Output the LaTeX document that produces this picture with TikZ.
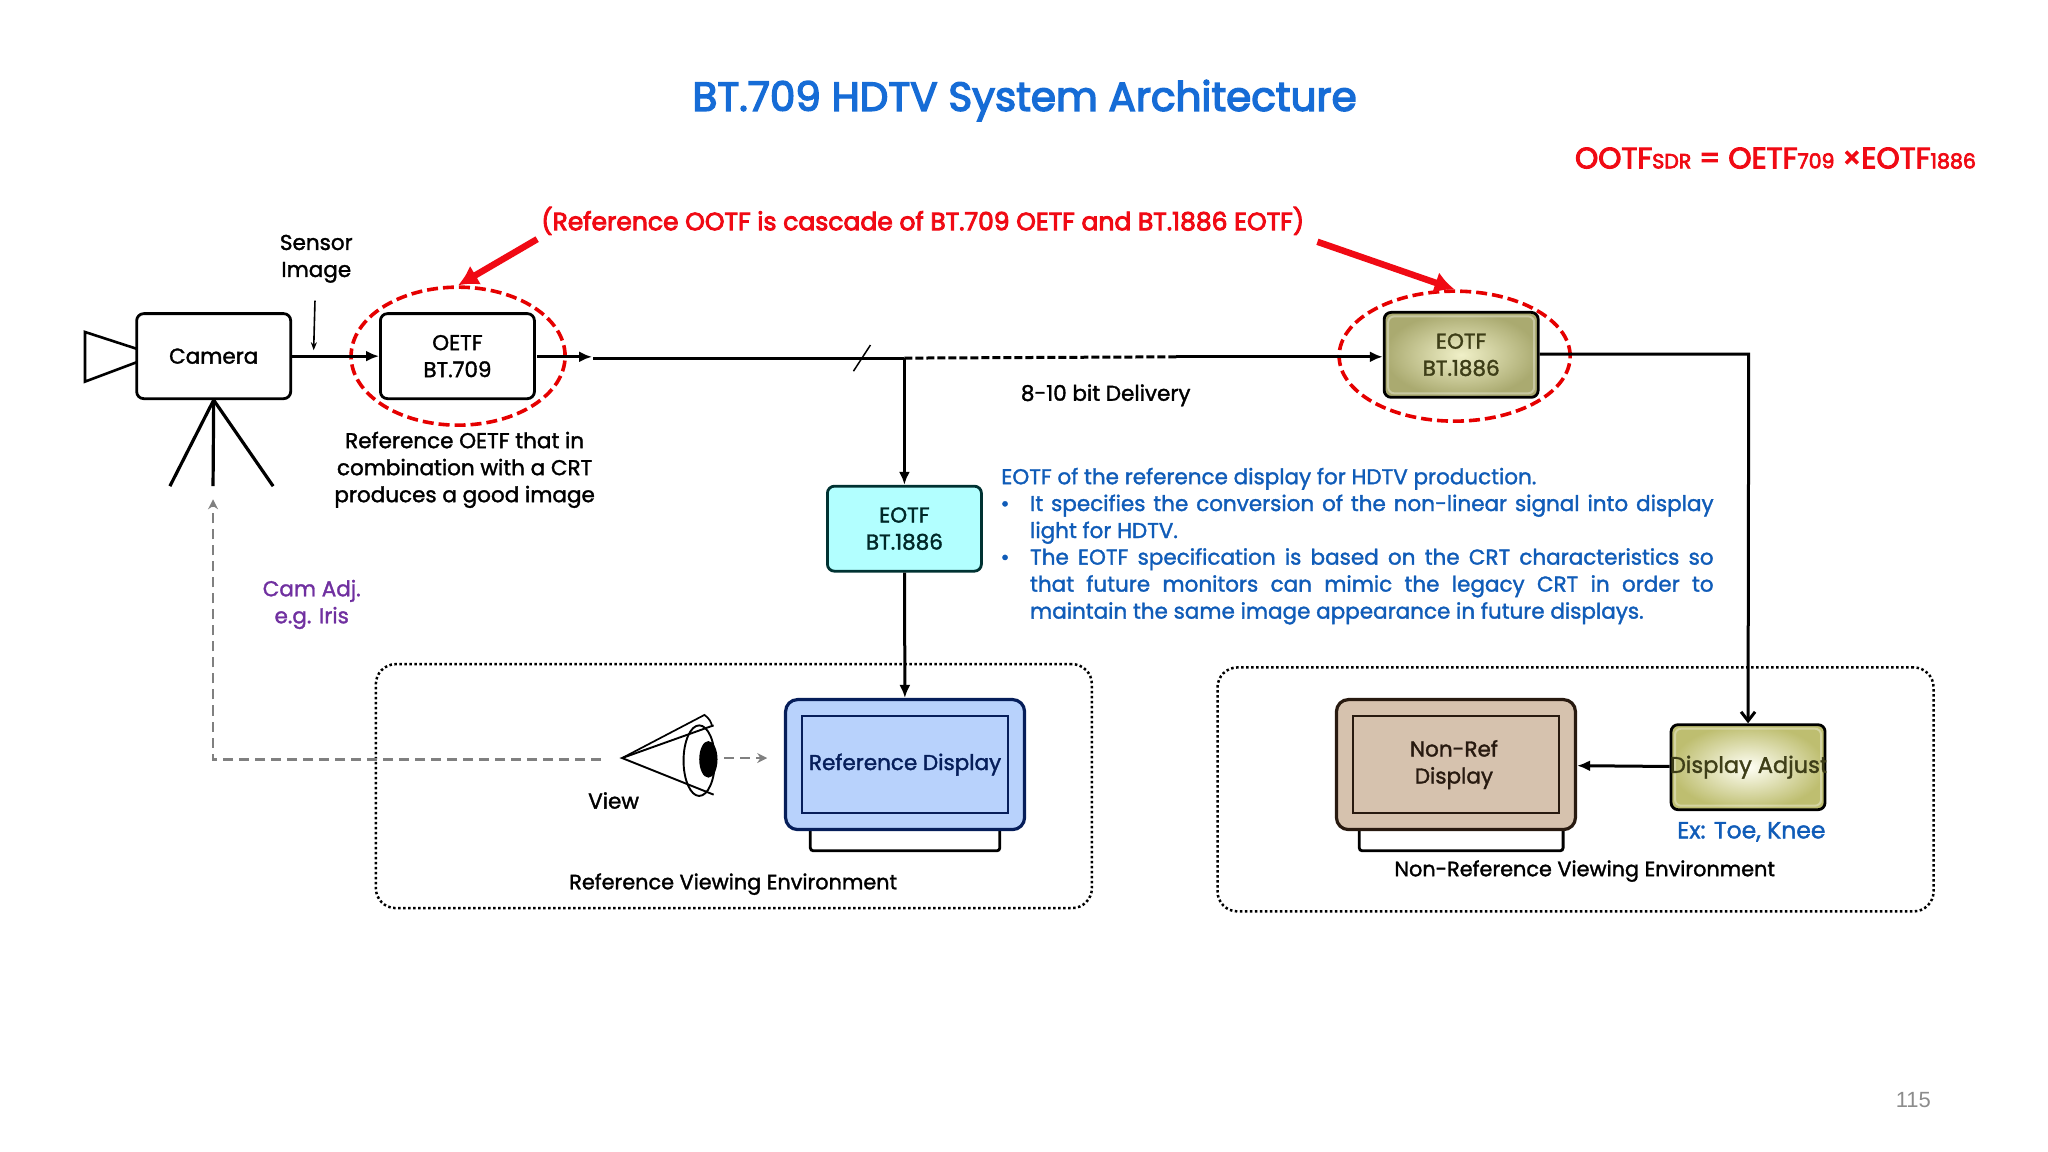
\documentclass[tikz,border=0pt]{standalone}
\usepackage{fontspec}
\setmainfont{Poppins}[FakeBold=1.6]
\newfontfamily\heavy{Poppins}[FakeBold=3.5]
\newfontfamily\plainsans{Liberation Sans}
\usetikzlibrary{arrows.meta,shapes.geometric}
\definecolor{titleblue}{RGB}{22,108,214}
\definecolor{textblue}{RGB}{16,92,184}
\definecolor{ootfred}{RGB}{240,10,20}
\definecolor{campurple}{RGB}{112,48,160}
\definecolor{refblue}{RGB}{184,210,252}
\definecolor{refline}{RGB}{6,30,90}
\definecolor{tan}{RGB}{214,194,174}
\definecolor{tanline}{RGB}{40,26,16}
\definecolor{cyanbox}{RGB}{178,255,255}
\definecolor{cyanline}{RGB}{0,50,50}
\definecolor{olivein}{RGB}{240,240,200}
\definecolor{oliveout}{RGB}{170,170,112}
\definecolor{adjin}{RGB}{255,255,245}
\definecolor{adjout}{RGB}{190,190,112}
\definecolor{olivetext}{RGB}{62,62,24}
\tikzset{
	lbl/.style={font=\fontsize{21.5}{27}\selectfont,align=center,inner sep=0pt},
	bluelbl/.style={font=\fontsize{21.5}{27}\selectfont,text=textblue,inner sep=0pt},
	procbox/.style={rectangle,rounded corners=7pt,line width=2.8pt,draw=black,
		minimum width=154pt,minimum height=85pt,align=center,inner sep=0pt,
		font=\fontsize{21.5}{27}\selectfont},
	gloss/.style={rectangle,rounded corners=6pt,draw=white,opacity=.35,line width=2pt,
		minimum width=146pt,minimum height=77pt,inner sep=0pt},
	monitor/.style={rectangle,rounded corners=12pt,line width=3.2pt,
		minimum width=239pt,minimum height=130pt,inner sep=0pt},
	panel/.style={rectangle,line width=1.3pt,minimum width=206pt,minimum height=97pt,
		align=center,inner sep=0pt,font=\fontsize{21.5}{27}\selectfont},
	stand/.style={line width=2.8pt,rounded corners=3pt},
	envbox/.style={rectangle,rounded corners=20pt,draw=black,line width=2.5pt,
		dash pattern=on 2.5pt off 2.5pt,minimum width=716pt,minimum height=244pt},
	ring/.style={ellipse,draw=red!90!black,line width=3.6pt,dash pattern=on 11pt off 5pt,inner sep=0pt},
	sig/.style={line width=3pt,-{Latex[length=13pt,width=11pt]}},
	redarrow/.style={line width=6.5pt,draw=ootfred,-{Latex[length=20pt,width=22pt]}},
	grayarrow/.style={line width=2.6pt,draw=black!50,dash pattern=on 10pt off 6pt,-{Stealth[length=10pt,width=10pt]}}
}
\begin{document}
\begin{tikzpicture}[x=1.3069pt,y=-1.3069pt]
	\useasboundingbox (0,0) rectangle (1567,881.4);

	% headings
	\node (title) at (784,77) [inner sep=0pt,text=titleblue,font=\heavy\fontsize{40.5}{44}\selectfont]
		{BT.709 HDTV System Architecture};
	\node (ootf) at (1358.5,121) [inner sep=0pt,text=ootfred,font=\heavy\fontsize{29.5}{32}\selectfont]
		{OOTF{\fontsize{20.5}{22}\selectfont SDR} = OETF{\fontsize{20.5}{22}\selectfont 709} ×EOTF{\fontsize{20.5}{22}\selectfont 1886}};
	\node (cascade) at (706,169) [inner sep=0pt,text=ootfred,font=\heavy\fontsize{25}{29}\selectfont]
		{(Reference OOTF is cascade of BT.709 OETF and BT.1886 EOTF)};

	% camera
	\node (camera) at (163.5,272.5) [procbox] {Camera};
	\draw [line width=2.6pt]
		(105,267) -- (65,254) -- (65,292) -- (105,277);
	\coordinate (foot1) at (130,372);
	\coordinate (foot2) at (163,372);
	\coordinate (foot3) at (209,372);
	\foreach \x in {1,2,3} {
		\draw [line width=3.2pt] (camera.south) -- (foot\x);
	}
	\node (sensor) at (242,198) [lbl] {Sensor\\Image};
	\coordinate (sensortop) at (241,230);
	\coordinate (sensorend) at (240,268);
	\draw [line width=1.6pt,-{Stealth[length=8pt,width=6pt]}] (sensortop) -- (sensorend);

	% sending side
	\node (oetf) at (350,272.5) [procbox] {OETF\\BT.709};
	\node (oetfring) at (350.5,272.5) [ring,minimum width=214pt,minimum height=138pt] {};
	\node (oetfnote) at (355.5,359.5) [lbl] {Reference OETF that in\\combination with a CRT\\produces a good image};
	\draw [sig] (camera) -- (oetf);
	\coordinate (oetfout) at (411,273);
	\coordinate (oetfhead) at (453,273);
	\draw [sig] (oetfout) -- (oetfhead);

	% delivery
	\coordinate (linestart) at (454,274);
	\coordinate (tap) at (692,274);
	\coordinate (dashend) at (900,273);
	\coordinate (slash1) at (653,284);
	\coordinate (slash2) at (666,264);
	\draw [line width=3pt] (linestart) -- (tap);
	\draw [line width=3pt,dash pattern=on 8pt off 3pt] (tap) -- (dashend);
	\draw [line width=1.5pt] (slash1) -- (slash2);
	\node (delivery) at (846,302.5) [lbl] {8-10 bit Delivery};

	% reference chain
	\node (eotfref) at (692,404.5) [procbox,draw=cyanline,fill=cyanbox,text=cyanline!80!black] {EOTF\\BT.1886};
	\draw [sig] (tap) -- (eotfref);
	\node (refenv) at (561.5,601.5) [envbox] {};
	\draw [stand] (620,635) -- (620,651) -- (765,651) -- (765,635);
	\node (refdisp) at (692.5,585) [monitor,draw=refline,fill=refblue] {};
	\node (refpanel) at (692.5,585) [panel,draw=refline,text=refline] {Reference Display};
	\draw [sig] (eotfref) -- (refdisp);
	\node (refenvlbl) at (561,676.5) [lbl,font=\fontsize{20.8}{27}\selectfont] {Reference Viewing Environment};

	% eye
	\coordinate (eyetip) at (476,580);
	\draw [line width=1.9pt,fill=white] (535,582) ellipse (12 and 27);
	\fill (542,581) ellipse (7 and 14);
	\draw [line width=1.9pt] (546,555) -- (eyetip) -- (546,608);
	\draw [line width=1.7pt] (eyetip) -- (539,547) to [bend left=20] (545,556);
	\node (view) at (469.5,612.5) [lbl] {View};
	\coordinate (lookstart) at (554,580);
	\coordinate (lookend) at (587,580);
	\draw [grayarrow] (lookstart) -- (lookend);

	% iris feedback
	\coordinate (camstart) at (460,581);
	\coordinate (camcorner) at (163,581);
	\coordinate (camend) at (163,382);
	\draw [grayarrow] (camstart) -- (camcorner) -- (camend);
	\node (camadj) at (238.5,462.5) [lbl,text=campurple] {Cam Adj.\\e.g. Iris};

	% explanation
	\node (eotfnote) at (766,370.5) [bluelbl,anchor=base west] {EOTF of the reference display for HDTV production.};
	\node (bull1) at (769,391) [bluelbl,anchor=base] {•};
	\node (bull2) at (769,432) [bluelbl,anchor=base] {•};
	\node (item1) at (788,391) [bluelbl,anchor=base west,text width=683.5pt,align=justify]
		{It specifies the conversion of the non-linear signal into display\linebreak light for HDTV.};
	\node (item2) at (788,432) [bluelbl,anchor=base west,text width=683.5pt,align=justify]
		{The EOTF specification is based on the CRT characteristics so\linebreak that future monitors can mimic the legacy CRT in order to\linebreak maintain the same image appearance in future displays.};

	% receiving side
	\node (eotfrx) at (1118,271.5) [procbox,inner color=olivein,outer color=oliveout,text=olivetext] {EOTF\\BT.1886};
	\node (eotfrxgl) at (eotfrx) [gloss] {};
	\node (eotfring) at (1113,272.5) [ring,minimum width=231pt,minimum height=130pt] {};
	\draw [sig] (dashend) -- (eotfrx.west |- dashend);
	\coordinate (rxcorner) at (1338,271);
	\node (nonrefenv) at (1205.5,604) [envbox] {};
	\node (adjust) at (1337.5,587) [procbox,inner color=adjin,outer color=adjout] {};
	\node (adjustgl) at (adjust) [gloss] {};
	\begin{scope}
		\clip (adjust.south west) rectangle (adjust.north east);
		\node (adjusttxt) at (adjust.center) [lbl,text=olivetext,font=\fontsize{22.5}{27}\selectfont] {\hspace*{2pt}Display Adjust};
	\end{scope}
	\draw [line width=3pt,-{Straight Barb[length=9pt,width=14pt]}] (eotfrx.east |- rxcorner) -- (rxcorner) -- (adjust.north);
	\draw [stand] (1040,635) -- (1040,651) -- (1196,651) -- (1196,635);
	\node (nonref) at (1114,585) [monitor,draw=tanline,fill=tan] {};
	\node (nonrefpanel) at (1114,585) [panel,draw=tanline,text=tanline] {\hspace*{-4pt}Non-Ref\\\hspace*{-4pt}Display};
	\draw [sig] (adjust) -- (nonref);
	\node (toeknee) at (1340,636.5) [bluelbl,font=\fontsize{23.5}{27}\selectfont] {Ex: Toe, Knee};
	\node (nonreflbl) at (1212.5,666.5) [lbl,font=\fontsize{20.8}{27}\selectfont] {Non-Reference Viewing Environment};

	% red pointers
	\coordinate (cascadeleft) at (411,183);
	\coordinate (cascaderight) at (1008,185);
	\draw [redarrow] (cascadeleft) -- (oetfring.north);
	\draw [redarrow] (cascaderight) -- (eotfring.north);

	\node (pagenum) at (1464,841.5) [inner sep=0pt,text=black!45,font=\plainsans\fontsize{22}{24}\selectfont] {115};
\end{tikzpicture}
\end{document}
